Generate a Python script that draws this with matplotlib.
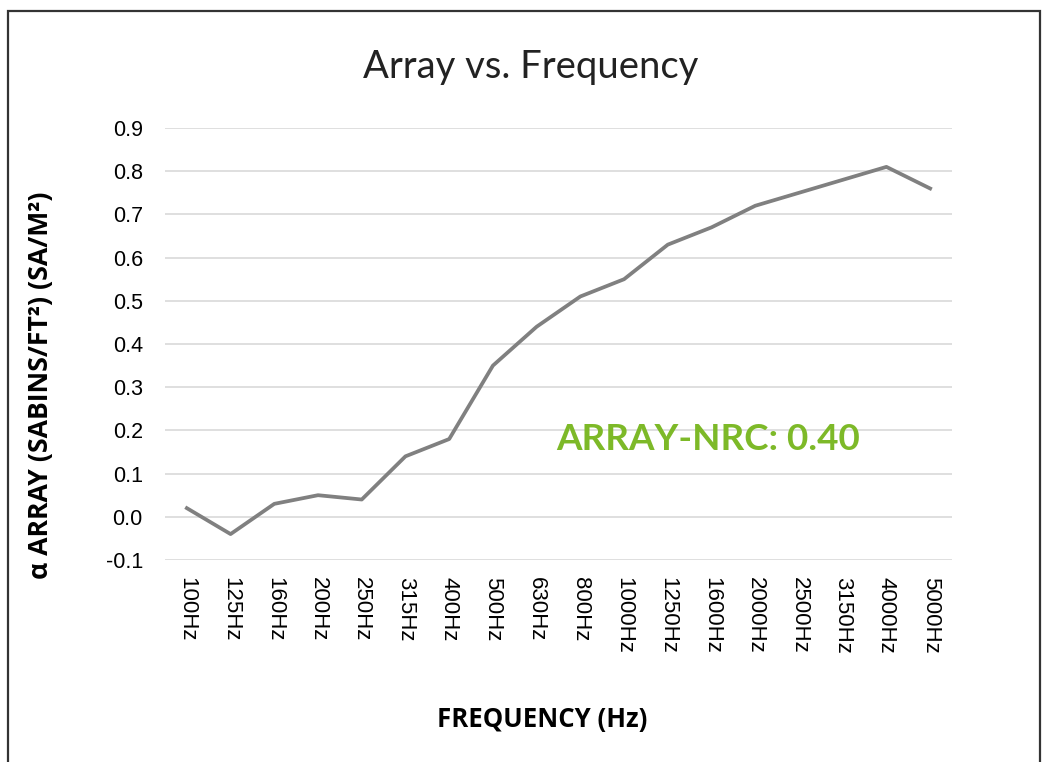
import matplotlib.pyplot as plt
from matplotlib.patches import Rectangle

freqs = ['100Hz', '125Hz', '160Hz', '200Hz', '250Hz', '315Hz', '400Hz', '500Hz',
         '630Hz', '800Hz', '1000Hz', '1250Hz', '1600Hz', '2000Hz', '2500Hz',
         '3150Hz', '4000Hz', '5000Hz']
alpha = [0.02, -0.04, 0.03, 0.05, 0.04, 0.14, 0.18, 0.35, 0.44, 0.51, 0.55,
         0.63, 0.67, 0.72, 0.75, 0.78, 0.81, 0.76]
yticks = [-0.1, 0.0, 0.1, 0.2, 0.3, 0.4, 0.5, 0.6, 0.7, 0.8, 0.9]
nrc_text = 'ARRAY-NRC: 0.40'

fig = plt.figure(figsize=(10.45, 7.62), dpi=100)
ax = fig.add_axes([165/1045, 1 - 560/762, (952-165)/1045, (560-128)/762])

x = list(range(len(freqs)))
ax.plot(x, alpha, color='#808080', lw=2.7, solid_joinstyle='round', zorder=3)

ax.set_xlim(-0.5, len(freqs) - 0.5)
ax.set_ylim(-0.1, 0.9)
ax.set_yticks(yticks)
ax.set_yticklabels([f'{v:.1f}' for v in yticks], fontsize=15.5, family='Liberation Sans')
ax.set_xticks(x)
ax.set_xticklabels(freqs, rotation=-90, fontsize=16, family='Liberation Sans', va='top')
ax.tick_params(length=0, pad=12)
ax.tick_params(axis='y', pad=16)
ax.grid(axis='y', color='#d9d9d9', lw=1.2)
ax.set_axisbelow(True)
for s in ax.spines.values():
    s.set_visible(False)

fig.text(531/1045, 1 - 67/762, 'Array vs. Frequency', ha='center', va='center',
         fontsize=27.5, family='Lato', color='#222222')
fig.text(542/1045, 1 - 720/762, 'FREQUENCY (Hz)', ha='center', va='center',
         fontsize=18.5, family='Open Sans', fontweight='bold')
fig.text(41/1045, 1 - 385/762, 'α ARRAY (SABINS/FT²) (SA/M²)', ha='center', va='center',
         rotation=90, fontsize=19.2, family='Open Sans', fontweight='bold')
ax.text(8.44, 0.18, nrc_text, ha='left', va='center', fontsize=26.5,
        family='Lato', fontweight='bold', color='#7db928')

fig.patches.append(Rectangle((8/1045, -0.1), (1040-8)/1045, 1.1 - 11/762,
                             transform=fig.transFigure, fill=False,
                             edgecolor='#333333', lw=1.6))

fig.savefig('out.png', dpi=100)
